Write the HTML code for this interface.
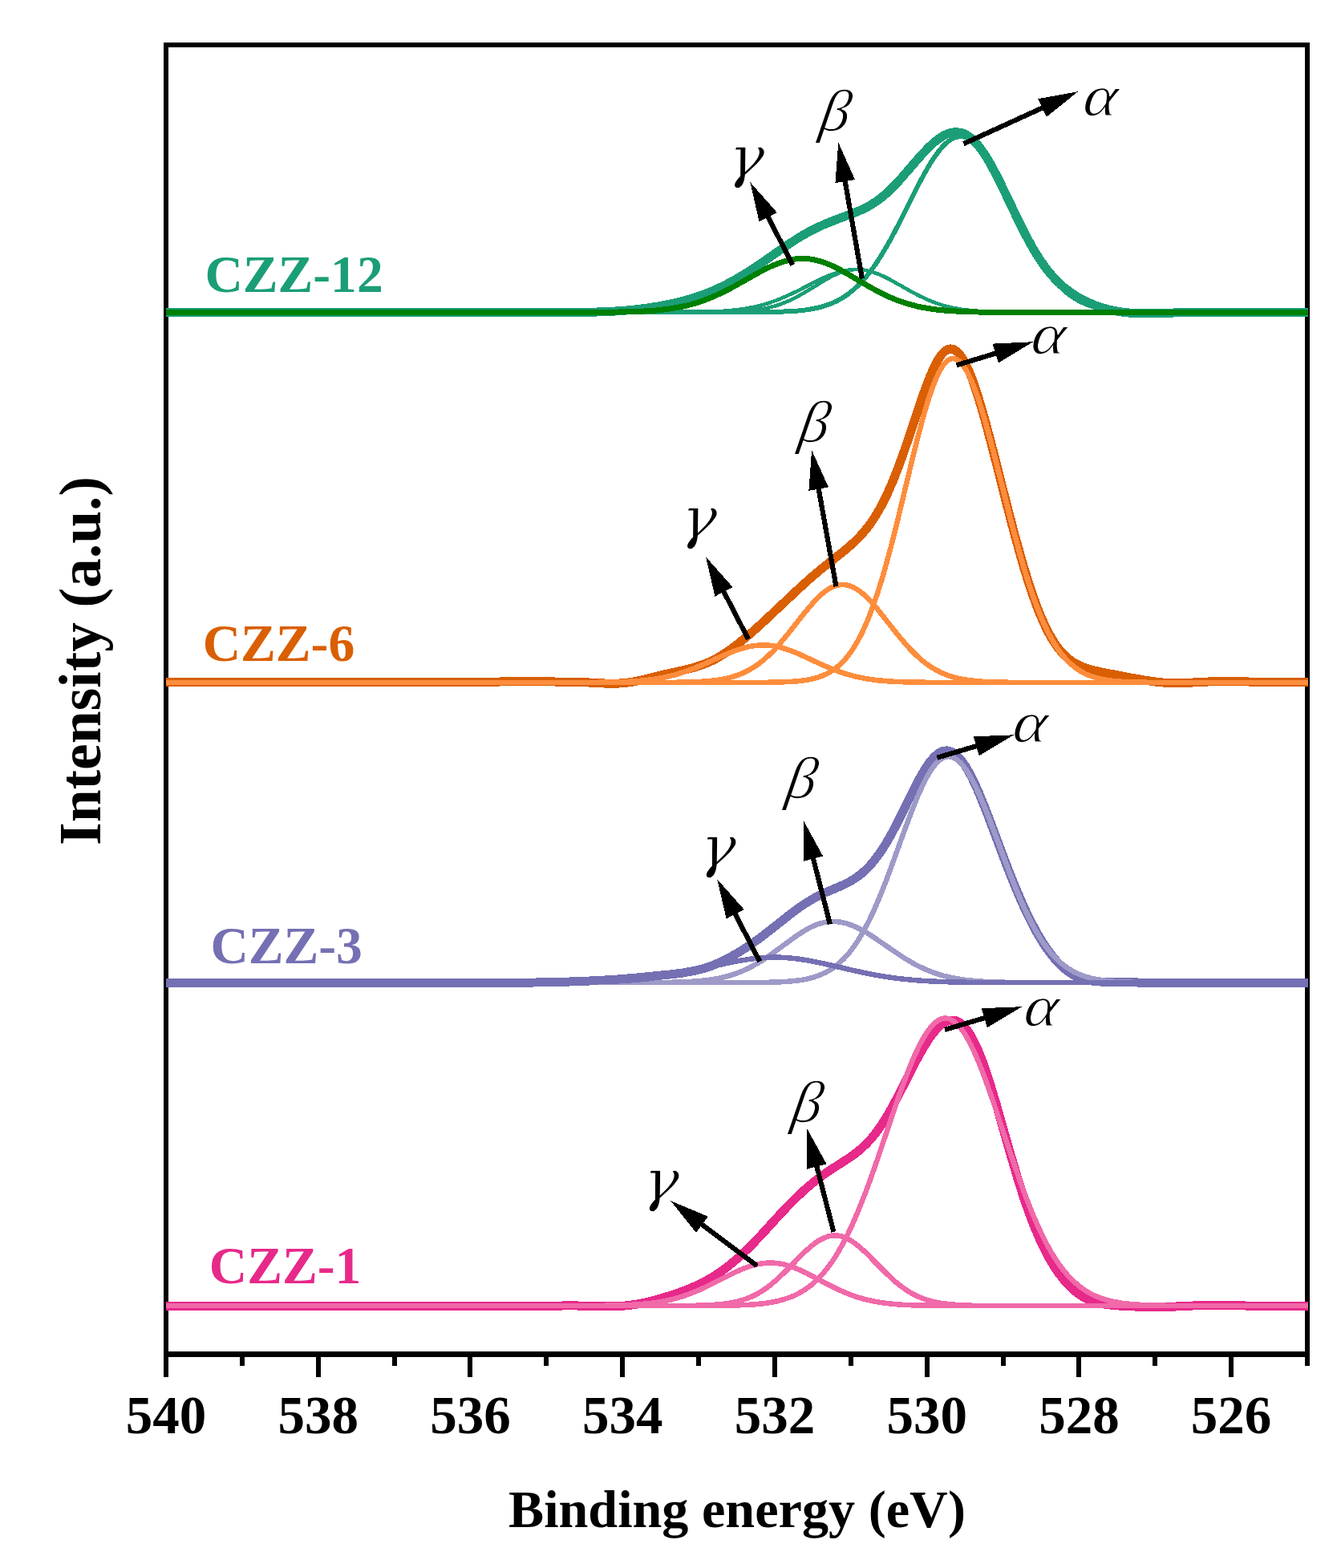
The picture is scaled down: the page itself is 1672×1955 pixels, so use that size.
<!DOCTYPE html>
<html lang="en"><head><meta charset="utf-8"><title>O 1s XPS spectra</title>
<style>html,body{margin:0;padding:0;background:#fff}body{width:1672px;height:1955px;overflow:hidden}svg{display:block}text{font-family:"Liberation Serif","DejaVu Serif",serif}.b{font-weight:bold}.gk{font-style:italic}.ln{fill:none;stroke-linejoin:round;stroke-linecap:butt}</style></head><body>
<svg width="1672" height="1955" viewBox="0 0 1672 1955" role="img" aria-label="O 1s XPS spectra of CZZ-1, CZZ-3, CZZ-6 and CZZ-12">
<rect width="1672" height="1955" fill="#fff"/>
<g id="axes" fill="#000">
<rect x="204" y="53" width="1429" height="6"/>
<rect x="204" y="53" width="6" height="1639"/>
<rect x="1627" y="53" width="6" height="1639"/>
<rect x="204" y="1685" width="1429" height="7"/>
<rect x="204" y="1690" width="6" height="27"/>
<rect x="299" y="1690" width="6" height="13"/>
<rect x="394" y="1690" width="6" height="27"/>
<rect x="489" y="1690" width="6" height="13"/>
<rect x="583" y="1690" width="6" height="27"/>
<rect x="678" y="1690" width="6" height="13"/>
<rect x="773" y="1690" width="6" height="27"/>
<rect x="868" y="1690" width="6" height="13"/>
<rect x="963" y="1690" width="6" height="27"/>
<rect x="1058" y="1690" width="6" height="13"/>
<rect x="1153" y="1690" width="6" height="27"/>
<rect x="1248" y="1690" width="6" height="13"/>
<rect x="1342" y="1690" width="6" height="27"/>
<rect x="1437" y="1690" width="6" height="13"/>
<rect x="1532" y="1690" width="6" height="27"/>
<rect x="1627" y="1690" width="6" height="13"/>
</g>
<g id="curves" shape-rendering="crispEdges">
<path class="ln" d="M207 389.4L700 389.4L737 389.2L752 388.8L766 388.1L779 387.2L792 385.9L805 384.3L818 382.4L830 380.2L841 377.9L850 375.7L858 373.5L866 371.1L874 368.4L882 365.4L889 362.5L897 358.9L904 355.5L918 348L933 339L948 329L974 310.8L985 303.4L996 296.3L1007 289.9L1018 284.2L1030 278.8L1041 274.4L1064 265.8L1072 262.6L1079 259.3L1086 255.4L1093 250.8L1099 246.3L1105 241.3L1112 234.7L1118 228.5L1124 221.9L1144 198.8L1151 190.9L1158 183.7L1165 177.2L1172 171.9L1176 169.4L1179 167.9L1183 166.3L1186 165.4L1189 164.9L1192 164.7L1197 165.2L1201 166.4L1205 168.2L1209 170.9L1213 174.2L1218 179.4L1222 184.4L1227 191.5L1231 197.8L1235 204.6L1243 219.6L1251 235.8L1271 277.6L1282 299.1L1288 309.8L1293 318.1L1299 327.2L1304 334.1L1309 340.5L1315 347.3L1320 352.3L1326 357.8L1332 362.5L1338 366.7L1344 370.5L1351 374.3L1358 377.6L1366 380.9L1373 383.3L1381 385.6L1389 387.4L1397 388.8L1405 389.8L1414 390.5L1423 390.8L1434 390.8L1474 389.7L1495 389.4L1631 389.4" stroke="#1b9e77" stroke-width="11"/>
<path class="ln" d="M207 389.4L941 389.3L968 388.9L988 388L996 387.4L1004 386.5L1011 385.4L1018 384.1L1027 381.8L1036 378.6L1044 375L1051 371.1L1058 366.3L1065 360.6L1072 354L1079 346.3L1085 338.8L1092 329L1099 318.2L1106 306.4L1112 295.6L1119 282.3L1141 238.4L1149 223L1157 208.7L1161 202.1L1165 196L1170 189.1L1174 184.2L1178 180L1182 176.5L1186 173.8L1190 171.8L1194 170.6L1198 170.2L1201 170.4L1205 171.5L1209 173.5L1213 176.3L1217 179.9L1221 184.3L1225 189.4L1230 196.7L1237 208.4L1245 223.4L1253 239.7L1273 281.5L1284 303.1L1290 313.9L1295 322.4L1301 331.8L1306 339L1311 345.5L1316 351.5L1321 356.8L1326 361.6L1331 365.8L1336 369.5L1341 372.7L1347 376L1353 378.8L1359 381L1365 382.9L1372 384.6L1380 386L1388 387.1L1397 387.9L1407 388.5L1426 389.1L1453 389.3L1631 389.4" stroke="#1b9e77" stroke-width="6"/>
<path class="ln" d="M207 389.4L828 389.4L872 389L887 388.6L900 388L916 386.6L930 384.7L943 382.2L956 378.7L968 374.5L981 369.1L993 363.4L1021 349.1L1029 345.4L1036 342.5L1045 339.4L1053 337.4L1061 336.2L1068 335.9L1075 336.3L1082 337.5L1089 339.5L1097 342.5L1103 345.2L1110 348.8L1135 362.9L1146 368.8L1157 373.9L1167 377.9L1177 381.1L1188 383.8L1199 385.8L1212 387.3L1223 388.2L1236 388.8L1252 389.1L1272 389.3L1631 389.4" stroke="#1b9e77" stroke-width="4.6"/>
<path class="ln" d="M207 389.4L862 389.4L900 389.1L913 388.8L924 388.2L938 387L951 385.1L957 383.9L963 382.4L969 380.7L974 379L984 374.9L995 369.4L1005 363.7L1029 349L1036 345.1L1042 342.2L1049 339.4L1055 337.5L1062 336.3L1068 335.9L1075 336.3L1082 337.5L1089 339.5L1097 342.5L1103 345.2L1110 348.8L1135 362.9L1146 368.8L1157 373.9L1167 377.9L1177 381.1L1188 383.8L1199 385.8L1212 387.3L1223 388.2L1236 388.8L1252 389.1L1272 389.3L1631 389.4" stroke="#1b9e77" stroke-width="4.6"/>
<path class="ln" d="M207 389.4L739 389.3L766 389.1L786 388.7L803 388L817 387.1L833 385.3L848 382.8L855 381.3L862 379.5L869 377.5L876 375.2L889 370.1L903 363.6L916 356.7L948 338.7L957 334.1L965 330.5L975 326.7L984 324.3L989 323.4L993 322.8L1001 322.4L1009 322.9L1013 323.4L1018 324.5L1027 327.1L1036 330.7L1044 334.5L1052 338.8L1082 356.4L1095 363.6L1108 370L1120 374.9L1132 378.9L1145 382.3L1158 384.7L1172 386.6L1186 387.7L1201 388.5L1219 389L1243 389.3L1631 389.4" stroke="#008000" stroke-width="7"/>
<path class="ln" d="M207 850.5L559 850.5L649 849.8L712 850.1L727 850.6L755 852.1L762 852.3L769 852.2L777 851.7L784 850.9L792 849.6L800 847.9L829 840.7L853 835.4L862 833.2L872 830.2L882 826.4L888 823.7L893 821.1L899 817.6L905 813.8L911 809.7L917 805.2L931 793.9L941 785.2L951 776.2L994 735.8L1010 721.3L1024 709.4L1051 688L1062 678.7L1068 673L1073 667.8L1078 662.1L1082 657.1L1086 651.7L1090 645.8L1094 639.3L1098 632.3L1102 624.6L1106 616.4L1113 600.5L1119 585.4L1126 566.3L1133 545.9L1147 503.8L1153 486.6L1159 470.8L1164 459.3L1167 453.2L1170 447.9L1173 443.5L1175 441L1178 438L1180 436.6L1183 435.2L1185 434.9L1188 435.3L1191 436.8L1194 439.1L1196 441.3L1198 443.8L1201 448.3L1205 455.8L1208 462.4L1212 472.3L1215 480.7L1219 492.7L1227 519.7L1236 553.2L1257 635.7L1266 670L1276 705.4L1281 721.8L1286 737.1L1292 754L1297 766.7L1302 778.1L1307 788.3L1312 797.1L1318 806.2L1323 812.5L1326 815.7L1329 818.6L1332 821.2L1336 824.2L1339 826.2L1343 828.4L1347 830.3L1351 832L1360 834.8L1367 836.6L1376 838.5L1413 845.6L1431 848.7L1445 850.6L1456 851.5L1467 851.7L1479 851.4L1508 849.9L1522 849.5L1535 849.6L1579 850.4L1631 850.5" stroke="#d95f02" stroke-width="11"/>
<path class="ln" d="M207 851L901 851L956 850.8L981 850.2L991 849.6L999 848.8L1007 847.6L1014 846.2L1020 844.5L1026 842.3L1031 840L1035 837.8L1039 835.2L1043 832.3L1047 828.9L1050 826L1054 821.7L1057 818.1L1061 812.7L1064 808.3L1070 798.2L1076 786.4L1082 772.8L1088 757.3L1094 739.9L1100 720.7L1106 699.7L1112 677.3L1118 653.5L1137 574.7L1144 546.5L1151 520.2L1158 496.8L1162 485L1166 474.6L1170 465.7L1174 458.4L1176 455.4L1178 452.9L1181 449.9L1183 448.5L1185 447.5L1188 447L1191 447.5L1193 448.3L1195 449.6L1197 451.3L1199 453.4L1203 458.8L1207 465.8L1211 474.3L1215 484.1L1220 498.1L1227 520.6L1234 545.6L1242 576.2L1261 651.3L1272 692L1278 712.5L1283 728.5L1288 743.3L1293 756.9L1298 769.4L1303 780.7L1308 790.8L1313 799.8L1318 807.7L1324 816L1329 821.8L1335 827.8L1341 832.7L1347 836.7L1353 840L1360 842.9L1368 845.4L1376 847.2L1385 848.6L1395 849.6L1413 850.5L1440 850.9L1631 851" stroke="#fd8d3c" stroke-width="6.5"/>
<path class="ln" d="M207 851L827 850.9L851 850.7L868 850.2L882 849.3L894 848L902 846.7L909 845.1L916 843.1L923 840.6L929 837.9L935 834.8L941 831.1L947 826.9L952 822.9L958 817.5L964 811.7L970 805.2L981 792.2L1001 766.8L1008 758.2L1015 750.2L1021 744L1025 740.4L1029 737.2L1033 734.5L1036 732.8L1040 731L1043 730L1047 729.2L1050 729L1053 729.1L1057 729.8L1060 730.7L1064 732.3L1068 734.5L1072 737.2L1076 740.4L1080 744L1087 751.3L1094 759.4L1119 791L1130 804.1L1136 810.6L1141 815.6L1146 820.3L1151 824.5L1156 828.3L1162 832.4L1167 835.3L1173 838.4L1178 840.6L1184 842.8L1190 844.6L1197 846.2L1209 848.3L1222 849.6L1238 850.4L1259 850.8L1307 851L1631 851" stroke="#fd8d3c" stroke-width="6.5"/>
<path class="ln" d="M207 851L720 851L762 850.6L776 850.2L789 849.5L804 848.3L817 846.6L830 844.2L842 841.3L854 837.5L866 833.1L878 828L905 815.9L913 812.6L920 810.1L929 807.4L937 805.6L945 804.6L952 804.3L959 804.6L967 805.8L974 807.4L982 809.9L989 812.5L997 815.8L1023 827.9L1035 833.1L1047 837.7L1058 841.2L1069 844.1L1081 846.4L1094 848.2L1108 849.4L1120 850.1L1134 850.5L1174 851L1631 851" stroke="#fd8d3c" stroke-width="6.5"/>
<path class="ln" d="M207 1225.2L633 1225.2L668 1225L695 1224.5L723 1223.6L751 1222.2L772 1220.9L794 1219L834 1215.1L850 1213.2L864 1210.8L871 1209.2L877 1207.6L887 1204.3L898 1199.7L909 1194.2L921 1187.4L933 1179.7L946 1170.6L959 1160.7L988 1137.8L996 1131.9L1004 1126.5L1013 1121L1022 1116.2L1031 1112.1L1049 1104.4L1058 1100L1063 1097.2L1068 1093.9L1073 1090.2L1077 1086.8L1084 1079.9L1091 1071.7L1098 1062.1L1105 1051.2L1111 1040.7L1118 1027.6L1138 987L1144 975.3L1150 964.5L1156 954.9L1159 950.6L1162 946.9L1165 943.6L1168 940.9L1171 938.7L1174 937.1L1177 936.2L1180 935.9L1182 936L1184 936.5L1186 937.2L1188 938.2L1192 941L1196 944.8L1200 949.7L1204 955.6L1208 962.4L1212 970L1219 985.1L1227 1004.4L1234 1022.5L1255 1078.5L1267 1108.6L1274 1124.9L1280 1137.9L1286 1150.1L1292 1161.3L1298 1171.6L1303 1179.5L1308 1186.6L1313 1193.1L1318 1198.9L1324 1204.9L1329 1209.1L1335 1213.4L1339 1215.8L1344 1218.2L1348 1219.7L1353 1221.3L1358 1222.4L1364 1223.4L1370 1223.9L1377 1224.3L1436 1225.3L1481 1225.1L1631 1225.2" stroke="#7570b3" stroke-width="11"/>
<path class="ln" d="M207 1225.2L941 1225.1L967 1224.6L977 1224.1L986 1223.5L994 1222.6L1001 1221.6L1008 1220.2L1014 1218.6L1022 1215.8L1030 1212.2L1034 1209.9L1038 1207.4L1045 1202L1052 1195.5L1059 1187.7L1066 1178.3L1072 1169.1L1078 1158.6L1084 1147L1090 1134.2L1097 1117.9L1103 1102.9L1109 1087.1L1129 1032L1137 1010.7L1145 991L1152 975.8L1156 968.2L1160 961.5L1164 955.7L1168 950.9L1172 947.3L1174 945.9L1176 944.8L1178 944L1180 943.4L1183 943.2L1186 943.6L1188 944.3L1190 945.2L1194 947.8L1198 951.5L1202 956.2L1206 961.9L1210 968.4L1215 977.8L1222 992.8L1230 1012L1238 1032.7L1258 1086.1L1269 1113.7L1275 1127.6L1280 1138.4L1286 1150.5L1291 1159.7L1296 1168.1L1301 1175.8L1306 1182.7L1311 1188.8L1316 1194.3L1322 1199.9L1327 1204L1333 1208.2L1339 1211.7L1345 1214.5L1352 1217.2L1359 1219.3L1367 1221.1L1375 1222.4L1384 1223.4L1394 1224.1L1413 1224.8L1441 1225.1L1631 1225.2" stroke="#9e9ac8" stroke-width="6.5"/>
<path class="ln" d="M207 1225.2L802 1225.1L827 1225L845 1224.6L860 1224L873 1223L881 1222.2L889 1221L896 1219.8L903 1218.2L910 1216.3L916 1214.4L922 1212.1L928 1209.6L934 1206.8L940 1203.6L946 1200.1L952 1196.4L964 1188.1L992 1167.6L1000 1162.3L1007 1158.1L1012 1155.6L1016 1153.8L1020 1152.2L1024 1151L1028 1150L1032 1149.3L1039 1148.9L1043 1149.1L1047 1149.5L1051 1150.3L1055 1151.2L1063 1154L1072 1158.1L1080 1162.6L1088 1167.6L1117 1187.6L1129 1195.4L1141 1202.4L1147 1205.4L1153 1208.3L1159 1210.8L1165 1213L1171 1215L1177 1216.8L1189 1219.5L1203 1221.8L1216 1223.1L1231 1224.1L1249 1224.7L1272 1225.1L1631 1225.2" stroke="#9e9ac8" stroke-width="6.5"/>
<path class="ln" d="M207 1225.2L674 1225.1L725 1224.8L760 1223.9L777 1223L793 1221.8L808 1220.3L823 1218.3L838 1215.9L853 1213L868 1209.7L905 1201.2L924 1197.5L935 1195.8L946 1194.5L956 1193.8L966 1193.6L976 1193.8L986 1194.5L996 1195.7L1007 1197.4L1027 1201.4L1062 1209.5L1077 1212.8L1092 1215.8L1106 1218.1L1120 1220L1134 1221.5L1148 1222.7L1164 1223.6L1180 1224.2L1198 1224.7L1246 1225.1L1631 1225.2" stroke="#7570b3" stroke-width="6.5"/>
<path class="ln" d="M207 1628.1L583 1628.1L660 1628.4L713 1627.9L727 1628.1L754 1628.8L767 1628.7L776 1628.3L785 1627.4L794 1626.1L803 1624.3L813 1621.9L825 1618.6L837 1614.9L849 1610.8L858 1607.3L867 1603.5L875 1599.7L882 1596L889 1591.9L896 1587.4L903 1582.5L910 1577.1L922 1566.9L935 1554.5L948 1541L972 1514.7L982 1504.1L993 1493L1004 1482.8L1015 1473.5L1026 1465.2L1036 1458.3L1057 1444.9L1065 1439.3L1073 1432.9L1080 1426.4L1087 1418.8L1093 1411.3L1099 1402.8L1106 1391.7L1112 1381.2L1118 1370L1137 1332.6L1145 1317.4L1152 1305.1L1159 1294.2L1163 1288.8L1167 1284L1171 1279.9L1174 1277.3L1178 1274.6L1181 1273.2L1184 1272.3L1187 1272L1189 1272.1L1191 1272.5L1193 1273.1L1195 1274.1L1197 1275.3L1199 1276.8L1202 1279.6L1206 1284.5L1209 1288.9L1213 1295.8L1217 1303.9L1221 1313.1L1225 1323.4L1229 1334.6L1233 1346.6L1242 1376.2L1261 1442.8L1270 1473L1275 1488.7L1280 1503.6L1285 1517.4L1290 1530.2L1296 1544.3L1302 1557L1308 1568.4L1314 1578.5L1320 1587.4L1327 1596.5L1334 1604.1L1341 1610.4L1347 1614.8L1353 1618.4L1359 1621.2L1365 1623.3L1372 1625.2L1379 1626.4L1387 1627.4L1398 1628.2L1423 1629.4L1441 1629.8L1456 1629.5L1489 1627.9L1506 1627.5L1520 1627.5L1565 1628.2L1631 1628.1" stroke="#e7298a" stroke-width="11"/>
<path class="ln" d="M207 1628.1L836 1628.1L901 1627.8L917 1627.5L930 1627L941 1626.3L951 1625.3L960 1624.1L969 1622.3L977 1620.2L984 1617.9L989 1615.9L993 1614L998 1611.4L1002 1609L1007 1605.6L1011 1602.6L1015 1599.2L1019 1595.4L1023 1591.3L1027 1586.8L1034 1578L1038 1572.3L1042 1566.2L1049 1554.3L1056 1541L1063 1526.2L1070 1510L1077 1492.5L1084 1473.8L1091 1454.2L1115 1383.4L1124 1357.6L1133 1333.6L1138 1321.4L1142 1312.4L1147 1302.1L1152 1293L1157 1285.2L1161 1280.1L1164 1276.9L1166 1275.1L1170 1272.2L1173 1270.7L1175 1270.1L1177 1269.7L1179 1269.6L1181 1269.8L1183 1270.2L1185 1270.9L1187 1271.9L1191 1274.7L1195 1278.6L1199 1283.4L1203 1289.3L1207 1296.1L1211 1303.7L1215 1312.2L1220 1323.7L1224 1333.7L1229 1347L1239 1375.4L1261 1441.3L1271 1470.2L1277 1486.7L1282 1499.8L1288 1514.6L1293 1526.2L1299 1539.1L1305 1550.9L1311 1561.7L1318 1572.8L1324 1581.2L1331 1589.7L1338 1597L1345 1603.1L1351 1607.6L1358 1611.9L1365 1615.4L1373 1618.7L1381 1621.2L1390 1623.2L1400 1624.9L1411 1626.1L1421 1626.8L1432 1627.4L1461 1627.9L1631 1628.1" stroke="#f069a9" stroke-width="6.5"/>
<path class="ln" d="M207 1628.1L838 1628.1L860 1627.9L876 1627.6L888 1627L899 1626.1L906 1625.3L913 1624.1L920 1622.5L926 1620.9L932 1618.8L937 1616.7L943 1613.8L948 1610.9L953 1607.7L958 1604.2L963 1600.2L969 1595.1L979 1585.6L1003 1561.3L1009 1555.8L1015 1550.9L1019 1548L1022 1546.2L1028 1543.2L1032 1541.7L1035 1541L1038 1540.5L1041 1540.4L1044 1540.5L1047 1541L1050 1541.7L1054 1543.2L1060 1546.2L1063 1548L1067 1550.9L1073 1555.8L1079 1561.3L1102 1584.6L1112 1594.2L1117 1598.6L1122 1602.6L1127 1606.3L1132 1609.7L1137 1612.7L1142 1615.3L1147 1617.6L1152 1619.5L1157 1621.2L1163 1622.8L1169 1624.1L1175 1625.1L1186 1626.4L1198 1627.3L1213 1627.8L1232 1628L1631 1628.1" stroke="#f069a9" stroke-width="6.5"/>
<path class="ln" d="M207 1628.1L725 1628.1L767 1627.6L782 1627.1L795 1626.4L810 1625L824 1623L837 1620.3L849 1617L861 1612.8L873 1607.8L885 1602.1L914 1587.4L922 1583.7L929 1580.9L938 1577.9L946 1575.9L954 1574.8L961 1574.5L968 1574.9L976 1576.2L984 1578.3L992 1581.2L999 1584.2L1006 1587.6L1033 1601.9L1044 1607.3L1056 1612.6L1067 1616.7L1078 1619.9L1090 1622.6L1103 1624.7L1117 1626.2L1129 1627L1143 1627.5L1183 1628L1631 1628.1" stroke="#f069a9" stroke-width="6.5"/>
</g>
<g id="labels">
<text class="b" x="207.0" y="1787" font-size="67" fill="#000" text-anchor="middle">540</text>
<text class="b" x="396.7" y="1787" font-size="67" fill="#000" text-anchor="middle">538</text>
<text class="b" x="586.5" y="1787" font-size="67" fill="#000" text-anchor="middle">536</text>
<text class="b" x="776.2" y="1787" font-size="67" fill="#000" text-anchor="middle">534</text>
<text class="b" x="965.9" y="1787" font-size="67" fill="#000" text-anchor="middle">532</text>
<text class="b" x="1155.7" y="1787" font-size="67" fill="#000" text-anchor="middle">530</text>
<text class="b" x="1345.4" y="1787" font-size="67" fill="#000" text-anchor="middle">528</text>
<text class="b" x="1535.1" y="1787" font-size="67" fill="#000" text-anchor="middle">526</text>
<text class="b" x="634" y="1903.7" font-size="66.2" fill="#000">Binding energy (eV)</text>
<text class="b" x="125.3" y="1054" font-size="73.6" fill="#000" transform="rotate(-90 125.3 1054)">Intensity (a.u.)</text>
<text class="b" x="255.4" y="363.8" font-size="65.6" fill="#1b9e77">CZZ-12</text>
<text class="b" x="252.7" y="823.8" font-size="65.6" fill="#d95f02">CZZ-6</text>
<text class="b" x="262.4" y="1200.6" font-size="65.6" fill="#7570b3">CZZ-3</text>
<text class="b" x="260.8" y="1599.9" font-size="65.6" fill="#e7298a">CZZ-1</text>
<text class="gk" x="0" y="0" font-size="70.8" fill="#000" stroke="#fff" stroke-width="1.1" style="font-family:'DejaVu Serif','Liberation Serif',serif" transform="translate(904.9 220.0) skewX(-7) scale(1.06 1)">γ</text>
<text class="gk" x="0" y="0" font-size="73.6" fill="#000" stroke="#fff" stroke-width="1.1" transform="translate(1020.0 163.0) skewX(-9.5)">β</text>
<text class="gk" x="0" y="0" font-size="72.9" fill="#000" stroke="#fff" stroke-width="1.1" transform="translate(1348.7 144.3) skewX(-7) scale(1.11 1)">α</text>
<text class="gk" x="0" y="0" font-size="70.8" fill="#000" stroke="#fff" stroke-width="1.1" style="font-family:'DejaVu Serif','Liberation Serif',serif" transform="translate(846.0 670.2) skewX(-7) scale(1.06 1)">γ</text>
<text class="gk" x="0" y="0" font-size="73.6" fill="#000" stroke="#fff" stroke-width="1.1" transform="translate(994.0 550.6) skewX(-9.5)">β</text>
<text class="gk" x="0" y="0" font-size="72.9" fill="#000" stroke="#fff" stroke-width="1.1" transform="translate(1284.1 441.0) skewX(-7) scale(1.11 1)">α</text>
<text class="gk" x="0" y="0" font-size="70.8" fill="#000" stroke="#fff" stroke-width="1.1" style="font-family:'DejaVu Serif','Liberation Serif',serif" transform="translate(869.7 1079.9) skewX(-7) scale(1.06 1)">γ</text>
<text class="gk" x="0" y="0" font-size="73.6" fill="#000" stroke="#fff" stroke-width="1.1" transform="translate(978.0 995.3) skewX(-9.5)">β</text>
<text class="gk" x="0" y="0" font-size="72.9" fill="#000" stroke="#fff" stroke-width="1.1" transform="translate(1260.9 925.0) skewX(-7) scale(1.11 1)">α</text>
<text class="gk" x="0" y="0" font-size="70.8" fill="#000" stroke="#fff" stroke-width="1.1" style="font-family:'DejaVu Serif','Liberation Serif',serif" transform="translate(798.7 1496.1) skewX(-7) scale(1.06 1)">γ</text>
<text class="gk" x="0" y="0" font-size="73.6" fill="#000" stroke="#fff" stroke-width="1.1" transform="translate(985.1 1399.1) skewX(-9.5)">β</text>
<text class="gk" x="0" y="0" font-size="72.9" fill="#000" stroke="#fff" stroke-width="1.1" transform="translate(1274.9 1279.0) skewX(-7) scale(1.11 1)">α</text>
</g>
<g id="arrows" shape-rendering="crispEdges" fill="#000" stroke="#000">
<line x1="988.4" y1="330.4" x2="955.9" y2="267.1" stroke-width="6.2"/>
<polygon stroke="none" points="935.3,227.1 968.8,265.0 946.6,276.4"/>
<line x1="1074.9" y1="347.6" x2="1053.0" y2="222.1" stroke-width="6.2"/>
<polygon stroke="none" points="1045.3,177.8 1066.0,223.9 1041.4,228.2"/>
<line x1="1201.5" y1="179.3" x2="1303.2" y2="132.9" stroke-width="6.2"/>
<polygon stroke="none" points="1344.1,114.2 1304.7,145.9 1294.3,123.2"/>
<line x1="933.0" y1="796.9" x2="900.7" y2="734.3" stroke-width="6.2"/>
<polygon stroke="none" points="880.1,694.3 913.7,732.1 891.4,743.6"/>
<line x1="1042.5" y1="731.3" x2="1020.0" y2="605.7" stroke-width="6.2"/>
<polygon stroke="none" points="1012.1,561.4 1033.0,607.4 1008.4,611.8"/>
<line x1="1192.6" y1="455.4" x2="1245.1" y2="439.4" stroke-width="6.2"/>
<polygon stroke="none" points="1288.1,426.2 1244.9,452.5 1237.6,428.6"/>
<line x1="947.4" y1="1199.0" x2="914.9" y2="1136.2" stroke-width="6.2"/>
<polygon stroke="none" points="894.2,1096.2 927.8,1134.0 905.6,1145.5"/>
<line x1="1034.9" y1="1152.2" x2="1013.0" y2="1066.7" stroke-width="6.2"/>
<polygon stroke="none" points="1001.9,1023.1 1026.1,1067.5 1001.9,1073.7"/>
<line x1="1168.5" y1="944.7" x2="1221.1" y2="929.1" stroke-width="6.2"/>
<polygon stroke="none" points="1264.2,916.3 1220.8,942.2 1213.7,918.3"/>
<line x1="944.0" y1="1578.4" x2="872.2" y2="1524.4" stroke-width="6.2"/>
<polygon stroke="none" points="836.3,1497.3 883.0,1516.8 867.9,1536.8"/>
<line x1="1039.4" y1="1535.9" x2="1017.4" y2="1450.6" stroke-width="6.2"/>
<polygon stroke="none" points="1006.2,1407.0 1030.5,1451.3 1006.3,1457.6"/>
<line x1="1178.0" y1="1283.9" x2="1231.1" y2="1268.1" stroke-width="6.2"/>
<polygon stroke="none" points="1274.2,1255.2 1230.8,1281.2 1223.7,1257.2"/>
</g>
</svg></body></html>
